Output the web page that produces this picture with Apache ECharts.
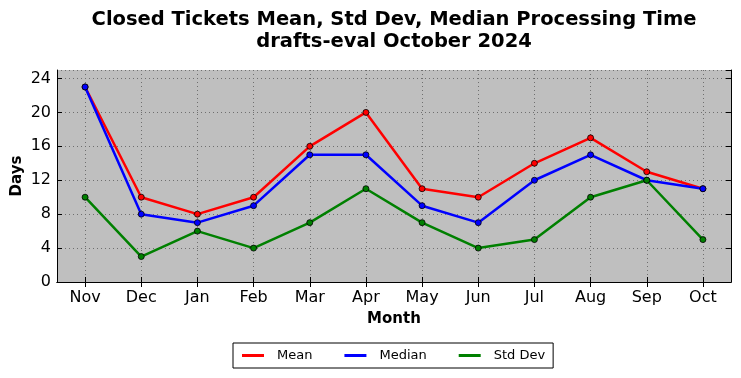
<!DOCTYPE html>
<html><head><meta charset="utf-8">
<script src="https://cdn.jsdelivr.net/npm/echarts@6/dist/echarts.min.js"></script>
<style>html,body{margin:0;padding:0;background:#fff}#c{width:741px;height:378px}</style>
</head><body><div id="c"></div>
<script>
const months = ['Nov','Dec','Jan','Feb','Mar','Apr','May','Jun','Jul','Aug','Sep','Oct'];
const meanValues = [23,10,8,10,16,20,11,10,14,17,13,11];
const medianValues = [23,8,7,9,15,15,9,7,12,15,12,11];
const stdDevValues = [10,3,6,4,7,11,7,4,5,10,12,5];
const yTicks = [0,4,8,12,16,20,24];

const FONT = 'DejaVu Sans';
const chart = echarts.init(document.getElementById('c'));
function mk(name, data, color){
  return {name, type:'line', data, xAxisIndex:0, yAxisIndex:0,
    symbol:'circle', symbolSize:6, showSymbol:true,
    lineStyle:{color, width:2.5}, itemStyle:{color, borderColor:'#000', borderWidth:0.8},
    animation:false};
}
const tickIn = {show:true, inside:true, length:5, lineStyle:{color:'#000', width:1}};
const gridLine = {show:true, lineStyle:{color:'#6f6f6f', type:[1,3], width:1}};
chart.setOption({
  backgroundColor:'#fff',
  textStyle:{fontFamily:FONT},
  title:{text:'Closed Tickets Mean, Std Dev, Median Processing Time\ndrafts-eval October 2024',
    left:394, top:9, textAlign:'center', padding:0,
    textStyle:{fontFamily:FONT, fontSize:19.5, fontWeight:'bold', color:'#000', lineHeight:22}},
  legend:{data:['Mean','Median','Std Dev'], left:233, top:343,
    icon:'rect', itemWidth:22, itemHeight:3, itemGap:32,
    itemStyle:{borderWidth:0},
    borderColor:'#000', borderWidth:1, padding:[6,8,6,9],
    textStyle:{fontFamily:FONT, fontSize:13, color:'#000', padding:[0,0,0,8]}},
  grid:{left:57, right:10, top:70, bottom:96, show:true, backgroundColor:'#bfbfbf', borderWidth:0,
    containLabel:false, outerBoundsMode:'none'},
  xAxis:[{type:'category', data:months, boundaryGap:true, position:'bottom',
    axisLine:{show:true, lineStyle:{color:'#000', width:1}},
    axisTick:Object.assign({alignWithLabel:true}, tickIn),
    axisLabel:{fontFamily:FONT, fontSize:16, color:'#000', margin:8},
    splitLine:Object.assign({alignWithLabel:true}, gridLine),
    name:'Month', nameLocation:'middle', nameGap:30, nameMoveOverlap:false,
    nameTextStyle:{fontFamily:FONT, fontSize:15, fontWeight:'bold', color:'#000'}},
   {type:'category', data:months, boundaryGap:true, position:'top',
    axisLine:{show:true, lineStyle:{color:'#000', width:1}},
    axisTick:Object.assign({alignWithLabel:true}, tickIn),
    axisLabel:{show:false}, splitLine:{show:false}}],
  yAxis:[{type:'value', min:0, max:25, interval:4, position:'left',
    axisLine:{show:true, lineStyle:{color:'#000', width:1}},
    axisTick:tickIn,
    axisLabel:{fontFamily:FONT, fontSize:16, color:'#000', margin:6, showMaxLabel:false,
      formatter:v => yTicks.includes(v) ? String(v) : ''},
    splitLine:gridLine,
    name:'Days', nameLocation:'middle', nameGap:32, nameRotate:90, nameMoveOverlap:false,
    nameTextStyle:{fontFamily:FONT, fontSize:15, fontWeight:'bold', color:'#000'}},
   {type:'value', min:0, max:25, interval:4, position:'right',
    axisLine:{show:true, lineStyle:{color:'#000', width:1}},
    axisTick:tickIn, axisLabel:{show:false}, splitLine:{show:false}}],
  series:[mk('Mean', meanValues, '#ff0000'), mk('Median', medianValues, '#0000ff'), mk('Std Dev', stdDevValues, '#008000')]
});
</script></body></html>
